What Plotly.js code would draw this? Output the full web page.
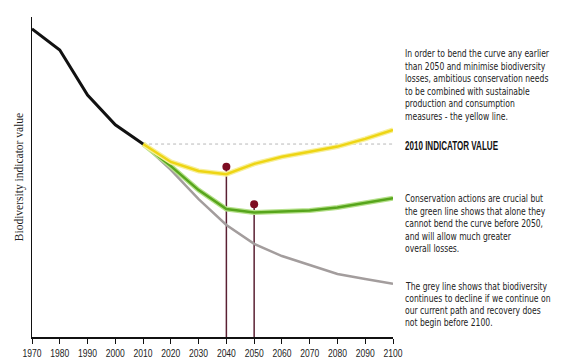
<!DOCTYPE html>
<html>
<head>
<meta charset="utf-8">
<script src="https://cdn.plot.ly/plotly-3.0.1.min.js"></script>
<style>html,body{margin:0;padding:0;background:#fff;}#chart{width:581px;height:364px;}</style>
</head>
<body>
<div id="chart"></div>
<script>
// Data (indicator value, arbitrary units 0-100)
const yearsPast = [1970, 1980, 1990, 2000, 2010];
const pastValues = [96.3, 89.7, 75.6, 66.3, 60.3];
const yearsFuture = [2010, 2020, 2030, 2040, 2050, 2060, 2070, 2080, 2090, 2100];
const yellowValues = [60.3, 54.7, 51.9, 50.9, 54.1, 56.3, 57.9, 59.5, 61.9, 64.7];
const greenValues  = [60.3, 53.4, 45.9, 40.0, 38.9, 39.1, 39.5, 40.5, 41.9, 43.4];
const greyValues   = [60.3, 52.2, 43.1, 35.0, 29.1, 25.3, 22.5, 19.7, 18.1, 16.6];
const indicator2010 = 60.3;
const markerYears = [2040, 2050];
const markerValues = [53.2, 41.5];
const tickYears = [1970,1980,1990,2000,2010,2020,2030,2040,2050,2060,2070,2080,2090,2100];
const yellowText = ['In order to bend the curve any earlier', 'than 2050 and minimise biodiversity',
  'losses, ambitious conservation needs', 'to be combined with sustainable',
  'production and consumption', 'measures - the yellow line.'];
const indicatorLabel = '2010 INDICATOR VALUE';
const greenText = ['Conservation actions are crucial but', 'the green line shows that alone they',
  'cannot bend the curve before 2050,', 'and will allow much greater', 'overall losses.'];
const greyText = ['The grey line shows that biodiversity', 'continues to decline if we continue on',
  'our current path and recovery does', 'not begin before 2100.'];

const traces = [];
traces.push({x:[2010, 2100], y:[indicator2010, indicator2010], mode:'lines',
  line:{color:'#b8b8b8', width:1, dash:'dot'}, hoverinfo:'skip'});
markerYears.forEach((yr, i) => {
  traces.push({x:[yr, yr], y:[0, markerValues[i]], mode:'lines',
    line:{color:'#5a2033', width:1.5}, hoverinfo:'skip'});
});
traces.push({x:yearsFuture, y:greyValues, mode:'lines', line:{color:'#a39d9d', width:2.5}});
traces.push({x:yearsFuture, y:greenValues, mode:'lines', line:{color:'#b5e08a', width:5}});
traces.push({x:yearsFuture, y:greenValues, mode:'lines', line:{color:'#57a51c', width:2.5}});
traces.push({x:yearsFuture, y:yellowValues, mode:'lines', line:{color:'#f7ef9a', width:5}});
traces.push({x:yearsFuture, y:yellowValues, mode:'lines', line:{color:'#eed514', width:2.5}});
traces.push({x:yearsPast, y:pastValues, mode:'lines', line:{color:'#111111', width:3}});
traces.push({x:markerYears, y:markerValues, mode:'markers', marker:{color:'#7d0c22', size:8}});

const FONT = '"Liberation Sans", Arial, sans-serif';
const NARROW = '"Liberation Sans Narrow", "DejaVu Sans Condensed", sans-serif';
const bodyFont = {family:NARROW, size:9.8, color:'#222'};
const annotations = [];
const groups = [];
function py(p){ return (337 - p) / 320; }
function addLines(lines, startPx, step, group){
  lines.forEach((t, i) => {
    annotations.push({xref:'paper', yref:'paper', x:1.028, y:py(startPx + i*step),
      xanchor:'left', yanchor:'middle', align:'left', showarrow:false, font:bodyFont, text:t});
    groups.push(group);
  });
}
addLines(yellowText, 53.5, 12.6, 'body');
annotations.push({xref:'paper', yref:'paper', x:1.028, y:py(145.5), xanchor:'left', yanchor:'middle',
  align:'left', showarrow:false, font:{family:FONT, size:13, color:'#111', weight:'bold'}, text:indicatorLabel});
groups.push('title');
addLines(greenText, 198.5, 12.6, 'body');
addLines(greyText, 286, 12.3, 'body');

const layout = {
  width:581, height:364,
  margin:{l:32, r:188, t:17, b:27},
  paper_bgcolor:'#fff', plot_bgcolor:'#fff',
  showlegend:false,
  xaxis:{range:[1970,2100], tickvals:tickYears, ticktext:tickYears.map(String),
    showgrid:false, zeroline:false, showline:true, linecolor:'#111', linewidth:1.5,
    ticks:'outside', ticklen:5, tickcolor:'#111', tickwidth:1,
    tickfont:{family:FONT, size:11, color:'#222'}},
  yaxis:{range:[0,100], showgrid:false, zeroline:false, showline:true, linecolor:'#111', linewidth:1.5,
    showticklabels:false, ticks:'',
    title:{text:'Biodiversity indicator value', standoff:4,
      font:{family:'"Liberation Serif", "DejaVu Serif", serif', size:11.5, color:'#222'}}},
  annotations:annotations
};

function squeezeEls(els, factor){
  els.forEach(el => {
    const w = el.getComputedTextLength();
    el.setAttribute('textLength', (w*factor).toFixed(2));
    el.setAttribute('lengthAdjust', 'spacingAndGlyphs');
  });
}
Plotly.newPlot('chart', traces, layout, {staticPlot:true, displayModeBar:false}).then(gd => {
  const annEls = groups.map((g, i) => gd.querySelector('g.annotation[data-index="' + i + '"] text.annotation-text'));
  const bodyEls = annEls.filter((e, i) => groups[i] === 'body' && e);
  const titleEls = annEls.filter((e, i) => groups[i] === 'title' && e);
  if (bodyEls.length) squeezeEls(bodyEls, Math.min(1, 144 / bodyEls[0].getComputedTextLength()));
  if (titleEls.length) squeezeEls(titleEls, 93 / titleEls[0].getComputedTextLength());
  const ticks = Array.from(gd.querySelectorAll('g.xtick text'));
  if (ticks.length) squeezeEls(ticks, 19 / ticks[0].getComputedTextLength());
});
</script>
</body>
</html>
